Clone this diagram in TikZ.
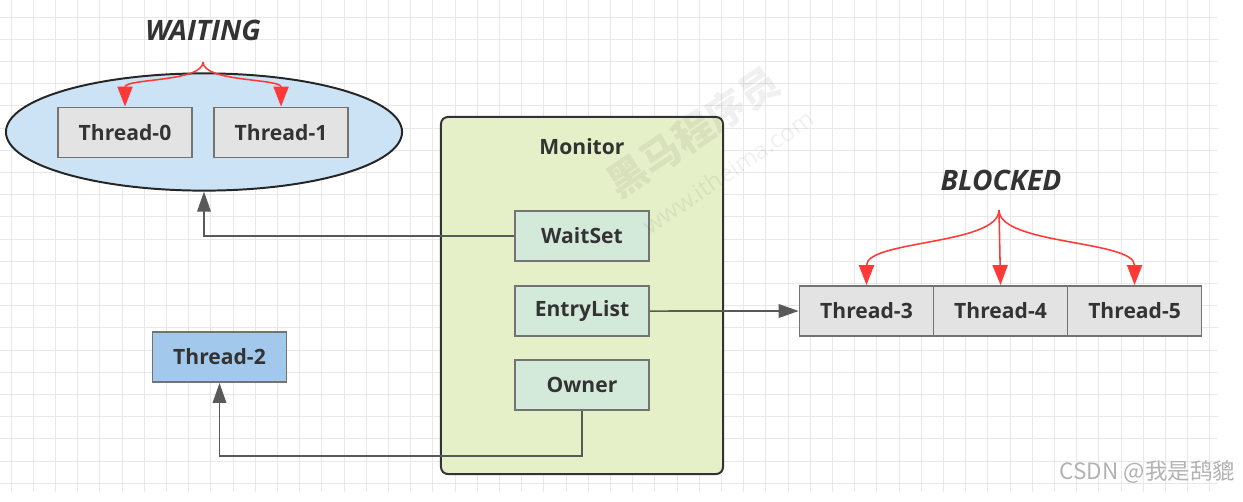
\documentclass[tikz,border=0pt]{standalone}
\usepackage{fontspec}
\setmainfont{Open Sans}
\newfontfamily\cjk{Noto Sans CJK SC}
\usetikzlibrary{positioning,shapes.geometric,arrows.meta}

\definecolor{gridgray}{HTML}{E8E8E8}
\definecolor{textdark}{HTML}{333333}
\definecolor{boxgray}{HTML}{E3E3E3}
\definecolor{waitblue}{HTML}{CCE3F5}
\definecolor{monitorgreen}{HTML}{E6F0C8}
\definecolor{setgreen}{HTML}{D3EADB}
\definecolor{ownerblue}{HTML}{A2C9EC}
\definecolor{forkred}{HTML}{FF3838}

\tikzset{
  thread box/.style={rectangle, draw=black!55, line width=1.1pt, fill=boxgray,
    minimum width=3.35cm, minimum height=1.26cm, inner sep=0pt,
    text=textdark, font=\fontsize{15}{18}\selectfont\bfseries},
  set box/.style={thread box, fill=setgreen},
  state label/.style={text=textdark, font=\fontsize{20}{24}\selectfont\bfseries\itshape},
  link/.style={draw=black!65, line width=1.1pt, -{Triangle[length=0.5cm,width=0.34cm]}},
  fork/.style={draw=forkred, line width=1.1pt, -{Triangle[length=0.5cm,width=0.38cm]}},
}

\begin{document}
\begin{tikzpicture}[x=0.025cm, y=-0.025cm]
  \useasboundingbox (0,0) rectangle (1243,501);

  %% background grid
  \foreach \i in {0,...,54} \draw[gridgray, line width=0.7pt] (11+22.2*\i,0) -- (11+22.2*\i,492);
  \foreach \j in {0,...,21} \draw[gridgray, line width=0.7pt] (0,17+22.2*\j) -- (1218,17+22.2*\j);

  %% waiting
  \node (Waiting) [ellipse, draw=black!85, line width=1.4pt, fill=waitblue,
    minimum width=9.9cm, minimum height=2.93cm] at (204,132) {};
  \node (Thread0) [thread box] at (125,132.5) {Thread-0};
  \node (Thread1) [thread box, node distance=3.9cm, right of=Thread0] {Thread-1};
  \node (WaitingLabel) [state label] at (203,30) {WAITING};
  \coordinate (WaitFork) at (203,62);

  %% monitor
  \node (Monitor) [rectangle, rounded corners=5pt, draw=black!80, line width=1.4pt,
    fill=monitorgreen, minimum width=7.05cm, minimum height=8.925cm] at (582,295.5) {};
  \node (MonitorLabel) [text=textdark, font=\fontsize{15}{18}\selectfont\bfseries] at (582,147) {Monitor};
  \node (WaitSet) [set box] at (582,236) {WaitSet};
  \node (EntryList) [set box, node distance=1.875cm, below of=WaitSet] {EntryList};
  \node (Owner) [set box, node distance=1.85cm, below of=EntryList] {Owner};

  %% blocked
  \node (Thread3) [thread box] at (866.5,311) {Thread-3};
  \node (Thread4) [thread box, node distance=3.35cm, right of=Thread3] {Thread-4};
  \node (Thread5) [thread box, node distance=3.35cm, right of=Thread4] {Thread-5};
  \node (BlockedLabel) [state label] at (1001,180) {BLOCKED};
  \coordinate (BlockFork) at (999,210);

  \node (Thread2) [thread box, fill=ownerblue] at (219.5,357) {Thread-2};

  \draw[link] (WaitSet.west) -| (Waiting.south);
  \draw[link] (EntryList.east) -- (Thread3.west);
  \draw[link] (Owner.south) -- ++(0,45) -| (Thread2.south);

  \draw[fork] (WaitFork) .. controls +(0,20) and +(0,-28) .. (Thread0.north);
  \draw[fork] (WaitFork) .. controls +(0,20) and +(0,-28) .. (Thread1.north);
  \draw[fork] (BlockFork) .. controls +(0,35) and +(0,-45) .. (Thread3.north);
  \draw[fork] (BlockFork) -- (Thread4.north);
  \draw[fork] (BlockFork) .. controls +(0,35) and +(0,-45) .. (Thread5.north);

  %% watermarks
  \node (Brand) [rotate=34, opacity=0.06, font=\cjk\fontsize{28}{30}\selectfont\bfseries] at (693,132) {黑马程序员};
  \node (BrandSite) [rotate=34, opacity=0.06, font=\fontsize{17}{20}\selectfont] at (728,172) {www.itheima.com};
  \node (Credit) [anchor=east, text=black!30, font=\cjk\fontsize{16}{18}\selectfont] at (1240,472) {CSDN @我是鸹貔};
\end{tikzpicture}
\end{document}
